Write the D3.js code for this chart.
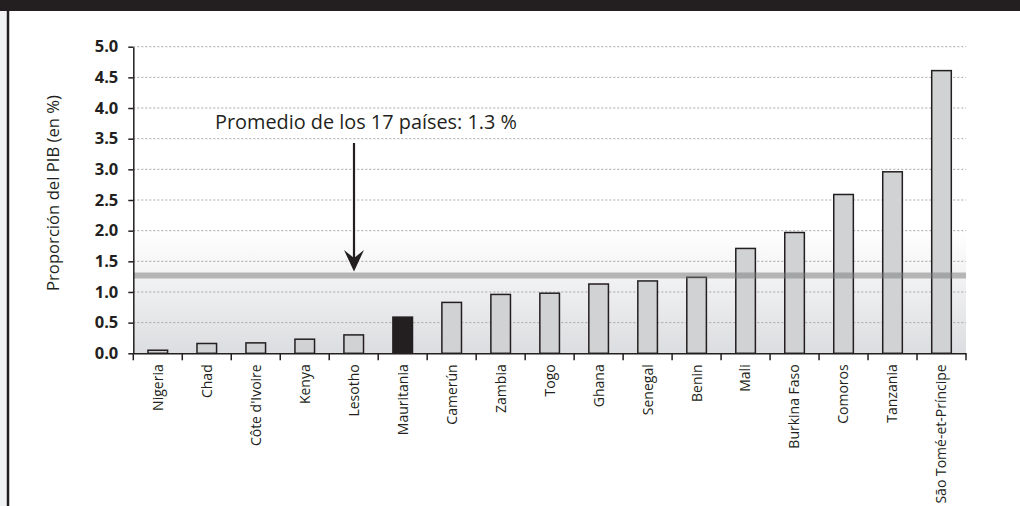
<!DOCTYPE html>
<html><head><meta charset="utf-8">
<script src="https://cdn.jsdelivr.net/npm/d3@7/dist/d3.min.js"></script>
<style>html,body{margin:0;padding:0;background:#fff;}svg{display:block;font-family:"Open Sans",sans-serif;}</style>
</head><body>
<script>
const countries = ["Nigeria","Chad","Côte d'Ivoire","Kenya","Lesotho","Mauritania","Camerún","Zambia","Togo","Ghana","Senegal","Benin","Mali","Burkina Faso","Comoros","Tanzania","São Tomé-et-Príncipe"];
const values = [0.05,0.16,0.17,0.23,0.30,0.59,0.83,0.96,0.98,1.13,1.18,1.24,1.71,1.97,2.59,2.96,4.61];
const highlighted = ["Mauritania"];
const yTicks = [0,0.5,1,1.5,2,2.5,3,3.5,4,4.5,5];
const averageValue = 1.27;
const annotationText = "Promedio de los 17 países: 1.3 %";
const yTitle = "Proporción del PIB (en %)";

const W = 1020, H = 506;
const dark = "#231f20";
const svg = d3.select("body").append("svg").attr("width", W).attr("height", H);

function fitFont(sel, target, base){
  sel.attr("font-size", base);
  const len = sel.node().getComputedTextLength();
  if (len > 0) sel.attr("font-size", base * target / len);
}

// frame
svg.append("rect").attr("x",0).attr("y",0).attr("width",7).attr("height",H).attr("fill","#f1f2f4");
svg.append("rect").attr("x",0).attr("y",0).attr("width",W).attr("height",11).attr("fill",dark);
svg.append("line").attr("x1",8).attr("x2",8).attr("y1",11).attr("y2",H).attr("stroke",dark).attr("stroke-width",2.5);

const x0 = 133.3, x1 = 966;
const x = d3.scaleBand().domain(countries).range([x0, x1]).paddingInner(0.6).paddingOuter(0.3);
const y = d3.scaleLinear().domain([0,5]).range([353.3, 46.7]);

// gradient background
const defs = svg.append("defs");
const g = defs.append("linearGradient").attr("id","bg").attr("x1",0).attr("x2",0).attr("y1",0).attr("y2",1);
g.append("stop").attr("offset","0%").attr("stop-color","#ffffff");
g.append("stop").attr("offset","100%").attr("stop-color","#dcdde0");
svg.append("rect").attr("x",x0).attr("y",y(2)).attr("width",x1-x0).attr("height",y(0)-y(2)).attr("fill","url(#bg)");

// gridlines
svg.append("g").selectAll("line").data(yTicks.filter(d=>d>0)).join("line")
  .attr("x1",x0).attr("x2",x1).attr("y1",d=>y(d)).attr("y2",d=>y(d))
  .attr("stroke","#a7a7a7").attr("stroke-width",1).attr("stroke-dasharray","2,2");

// bars
svg.append("g").selectAll("rect").data(countries).join("rect")
  .attr("x",d=>x(d)).attr("width",x.bandwidth())
  .attr("y",(d,i)=>y(values[i])).attr("height",(d,i)=>y(0)-y(values[i]))
  .attr("fill",d=>highlighted.includes(d)?dark:"#d1d2d4")
  .attr("stroke",dark).attr("stroke-width",1.5);

// average line
svg.append("line").attr("x1",x0).attr("x2",x1).attr("y1",y(averageValue)).attr("y2",y(averageValue))
  .attr("stroke","rgb(120,120,120)").attr("stroke-opacity",0.5).attr("stroke-width",6);

// y axis
const yAxis = svg.append("g").attr("transform",`translate(${x0},0)`)
  .call(d3.axisLeft(y).tickValues(yTicks).tickFormat(d3.format(".1f")).tickSizeInner(5).tickSizeOuter(0).tickPadding(10));
yAxis.select(".domain").attr("stroke",dark).attr("stroke-width",1.5);
yAxis.selectAll(".tick line").attr("stroke",dark).attr("stroke-width",1.5);
yAxis.selectAll(".tick text").attr("fill",dark).attr("font-size",16.5).attr("font-weight","bold").attr("font-family","'Open Sans',sans-serif");

// x axis
const xAxis = svg.append("g").attr("transform",`translate(0,${y(0)})`)
  .call(d3.axisBottom(x).tickSize(0).tickSizeOuter(0));
xAxis.select(".domain").attr("stroke",dark).attr("stroke-width",1.5);
xAxis.selectAll(".tick text").attr("fill",dark).attr("font-size",14).attr("font-family","'Open Sans',sans-serif")
  .attr("text-anchor","end").attr("transform","rotate(-90)").attr("x",-11).attr("y",0).attr("dy","0.35em");
// boundary ticks
const bounds = d3.range(countries.length+1).map(i=> x0 + i*(x1-x0)/countries.length);
svg.append("g").selectAll("line").data(bounds).join("line")
  .attr("x1",d=>d).attr("x2",d=>d).attr("y1",y(0)).attr("y2",y(0)+7)
  .attr("stroke",dark).attr("stroke-width",1.5);

// y title
const yt = svg.append("text").attr("transform",`translate(59,${193}) rotate(-90)`)
  .attr("text-anchor","middle").attr("fill",dark).text(yTitle);
fitFont(yt, 196, 16);

// annotation
const at = svg.append("text").attr("x",215).attr("y",129).attr("fill",dark).text(annotationText);
fitFont(at, 302, 17);
const ax = 354;
svg.append("line").attr("x1",ax).attr("x2",ax).attr("y1",143).attr("y2",262).attr("stroke",dark).attr("stroke-width",2.2);
svg.append("path").attr("d",`M${ax-10},${250} L${ax},${258} L${ax+10},${250} L${ax},${y(averageValue)-4} Z`).attr("fill",dark);
</script>
</body></html>
